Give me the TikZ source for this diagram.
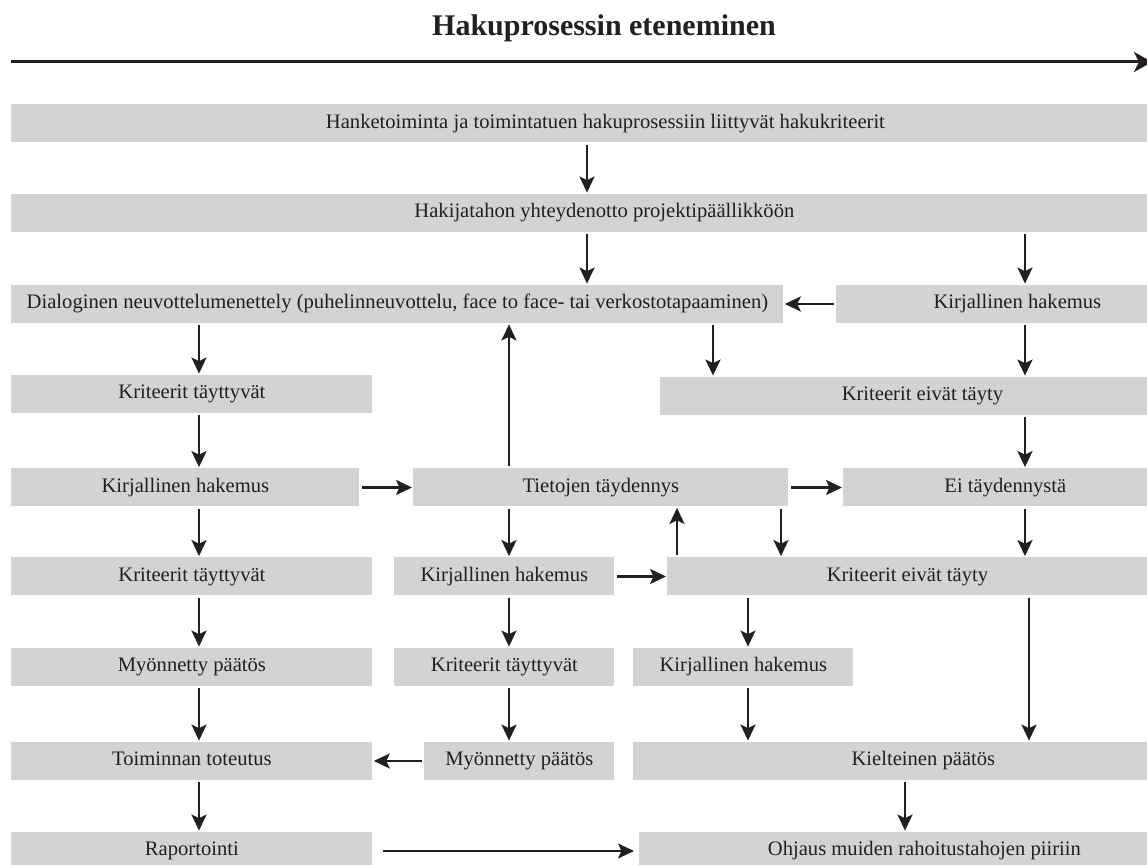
\documentclass[tikz,border=0pt]{standalone}
\usepackage{fontspec}
\setmainfont{Liberation Serif}
\usepackage{xcolor}
\usetikzlibrary{arrows.meta}
\definecolor{boxgray}{RGB}{211,211,211}
\definecolor{inkdark}{RGB}{35,31,32}

\begin{document}
\begin{tikzpicture}[
    x=0.5pt,y=-0.5pt,
    box/.style={rectangle,fill=boxgray,text=inkdark,anchor=west,minimum height=19pt,inner sep=0pt,text height=6.5pt,text depth=1.5pt,font=\fontsize{10.3pt}{12pt}\selectfont},
    arrow/.style={-{Stealth[length=8pt,width=7.5pt,inset=1.8pt]},line width=1.15pt,inkdark,shorten <=1pt,shorten >=0.5pt}
]
\useasboundingbox (0,0) rectangle (1147,865);

\node[anchor=base,text=inkdark,font=\fontsize{15pt}{18pt}\selectfont\bfseries] (title) at (604,36) {Hakuprosessin eteneminen};
\coordinate (tl) at (11,62);
\coordinate (tr) at (1152,62);
\draw[-{Stealth[length=9pt,width=10pt,inset=2.5pt]},line width=1.5pt,inkdark] (tl) -- (tr);

% rows of boxes
\node[box,minimum width=594pt] (han) at (11,123.5) {Hanketoiminta ja toimintatuen hakuprosessiin liittyvät hakukriteerit};
\node[box,minimum width=593pt] (hak) at (11,213) {Hakijatahon yhteydenotto projektipäällikköön};
\node[box,minimum width=386pt] (dia) at (11,304) {Dialoginen neuvottelumenettely (puhelinneuvottelu, face to face- tai verkostotapaaminen)};
\node[box,minimum width=181pt] (kirA) at (836,304) {Kirjallinen hakemus};
\node[box,minimum width=180.5pt] (kriA) at (11,394) {Kriteerit täyttyvät};
\node[box,minimum width=262pt] (eivA) at (660,396) {Kriteerit eivät täyty};
\node[box,minimum width=174pt] (kirB) at (11,487.5) {Kirjallinen hakemus};
\node[box,minimum width=187.5pt] (tie) at (413,487.5) {Tietojen täydennys};
\node[box,minimum width=162pt] (eit) at (843,487.5) {Ei täydennystä};
\node[box,minimum width=180.5pt] (kriB) at (11,576.5) {Kriteerit täyttyvät};
\node[box,minimum width=110pt] (kirC) at (394,576.5) {Kirjallinen hakemus};
\node[box,minimum width=240pt] (eivB) at (667,576.5) {Kriteerit eivät täyty};
\node[box,minimum width=180.5pt] (myoA) at (11,667) {Myönnetty päätös};
\node[box,minimum width=110pt] (kriC) at (394,667) {Kriteerit täyttyvät};
\node[box,minimum width=110pt] (kirD) at (633,667) {Kirjallinen hakemus};
\node[box,minimum width=180.5pt] (tot) at (11,761) {Toiminnan toteutus};
\node[box,minimum width=95pt] (myoB) at (424,761) {Myönnetty päätös};
\node[box,minimum width=290pt] (kie) at (633,761) {Kielteinen päätös};
\node[box,minimum width=180.5pt] (rap) at (11,851) {Raportointi};
\node[box,minimum width=285pt] (ohj) at (639,851) {Ohjaus muiden rahoitustahojen piiriin};

% arrow columns
\coordinate (xa) at (199,0);
\coordinate (xb) at (587,0);
\coordinate (xc) at (1025,0);
\coordinate (xd) at (713,0);
\coordinate (xe) at (509,0);
\coordinate (xf) at (677,0);
\coordinate (xg) at (781,0);
\coordinate (xh) at (748,0);
\coordinate (xi) at (1029,0);
\coordinate (xj) at (905,0);

\draw[arrow] (han.south -| xb) -- (hak.north -| xb);
\draw[arrow] (hak.south -| xb) -- (dia.north -| xb);
\draw[arrow] (hak.south -| xc) -- (kirA.north -| xc);
\draw[arrow] (kirA.west) -- (dia.east);
\draw[arrow] (dia.south -| xa) -- (kriA.north -| xa);
\draw[arrow] (dia.south -| xd) -- (eivA.north -| xd);
\draw[arrow] (kirA.south -| xc) -- (eivA.north -| xc);
\draw[arrow] (kriA.south -| xa) -- (kirB.north -| xa);
\draw[arrow] (eivA.south -| xc) -- (eit.north -| xc);
\draw[arrow] (kirB.east) -- (tie.west);
\draw[arrow] (tie.north -| xe) -- (dia.south -| xe);
\draw[arrow] (tie.east) -- (eit.west);
\draw[arrow] (kirB.south -| xa) -- (kriB.north -| xa);
\draw[arrow] (tie.south -| xe) -- (kirC.north -| xe);
\draw[arrow] (eivB.north -| xf) -- (tie.south -| xf);
\draw[arrow] (tie.south -| xg) -- (eivB.north -| xg);
\draw[arrow] (eit.south -| xc) -- (eivB.north -| xc);
\draw[arrow] (kriB.south -| xa) -- (myoA.north -| xa);
\draw[arrow] (kirC.east) -- (eivB.west);
\draw[arrow] (kirC.south -| xe) -- (kriC.north -| xe);
\draw[arrow] (eivB.south -| xh) -- (kirD.north -| xh);
\draw[arrow] (eivB.south -| xi) -- (kie.north -| xi);
\draw[arrow] (myoA.south -| xa) -- (tot.north -| xa);
\draw[arrow] (kriC.south -| xe) -- (myoB.north -| xe);
\draw[arrow] (kirD.south -| xh) -- (kie.north -| xh);
\draw[arrow] (myoB.west) -- (tot.east);
\draw[arrow] (tot.south -| xa) -- (rap.north -| xa);
\draw[arrow] (kie.south -| xj) -- (ohj.north -| xj);
\draw[arrow,shorten <=5pt,shorten >=2.5pt] (rap.east) -- (ohj.west);

\end{tikzpicture}
\end{document}
